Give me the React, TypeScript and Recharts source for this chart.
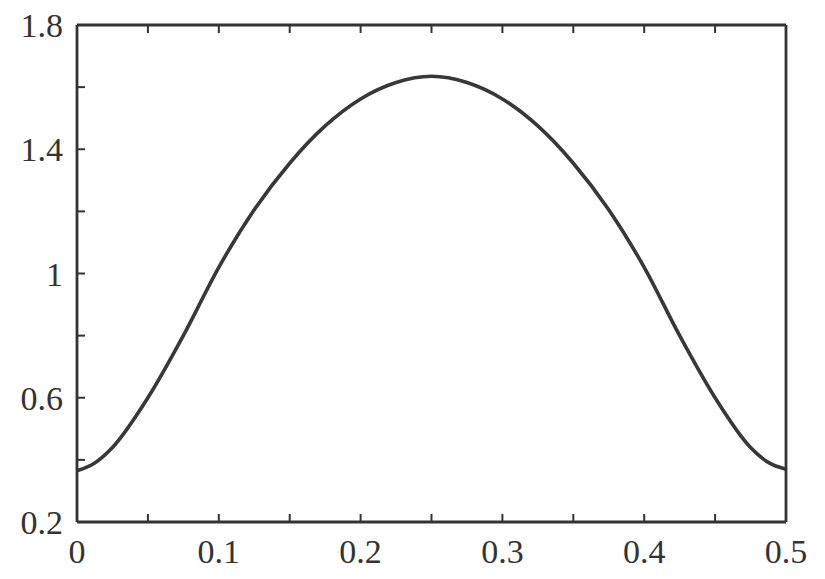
import React from "react";
import { LineChart, Line, XAxis, YAxis } from "recharts";

const xValues = [0, 0.0125, 0.025, 0.05, 0.075, 0.1, 0.125, 0.15, 0.175, 0.2, 0.225, 0.25, 0.275, 0.3, 0.325, 0.35, 0.375, 0.4, 0.425, 0.45, 0.475, 0.4875, 0.5];
const yValues = [0.365, 0.39, 0.44, 0.6, 0.8, 1.02, 1.205, 1.355, 1.475, 1.562, 1.615, 1.635, 1.615, 1.562, 1.475, 1.355, 1.205, 1.02, 0.8, 0.6, 0.44, 0.392, 0.37];

const xTicks = [0, 0.05, 0.1, 0.15, 0.2, 0.25, 0.3, 0.35, 0.4, 0.45, 0.5];
const xLabels = [0, 0.1, 0.2, 0.3, 0.4, 0.5];
const yTicks = [0.2, 0.4, 0.6, 0.8, 1, 1.2, 1.4, 1.6, 1.8];
const yLabels = [0.2, 0.6, 1, 1.4, 1.8];

const data = xValues.map((x, i) => ({ x, y: yValues[i] }));

const INK = "#333";
const FONT = "'Liberation Serif', 'DejaVu Serif', serif";
const TICK_LEN = 8;

const has = (list: number[], v: number) => list.some((l) => Math.abs(l - v) < 1e-6);
const fmt = (v: number) => String(Math.round(v * 10) / 10);

// ticks point into the plot box, labels only on every other tick
const BottomTick = ({ x, y, payload }: any) => (
    <g>
        <line x1={x} x2={x} y1={y} y2={y - TICK_LEN} stroke={INK} strokeWidth={2} />
        {has(xLabels, payload.value) && (
            <text x={x} y={y + 41} textAnchor="middle" fill={INK} fontSize={34} fontFamily={FONT}>
                {fmt(payload.value)}
            </text>
        )}
    </g>
);

const TopTick = ({ x, y }: any) => (
    <line x1={x} x2={x} y1={y} y2={y + TICK_LEN} stroke={INK} strokeWidth={2} />
);

const LeftTick = ({ x, y, payload }: any) => (
    <g>
        <line x1={x} x2={x + TICK_LEN} y1={y} y2={y} stroke={INK} strokeWidth={2} />
        {has(yLabels, payload.value) && (
            <text x={x - 14} y={y + 12} textAnchor="end" fill={INK} fontSize={34} fontFamily={FONT}>
                {fmt(payload.value)}
            </text>
        )}
    </g>
);

const RightTick = ({ x, y }: any) => (
    <line x1={x} x2={x - TICK_LEN} y1={y} y2={y} stroke={INK} strokeWidth={2} />
);

const axisLine = { stroke: INK, strokeWidth: 2.8 };

export default function App() {
    return (
        <div style={{ position: "absolute", left: 0, top: 0, background: "#fff" }}>
            <LineChart width={825} height={579} data={data} margin={{ top: 24, right: 38, bottom: 0, left: 0 }}>
                <XAxis
                    xAxisId="bottom"
                    dataKey="x"
                    type="number"
                    domain={[0, 0.5]}
                    ticks={xTicks}
                    interval={0}
                    height={57}
                    tickSize={0}
                    tickMargin={0}
                    tickLine={false}
                    axisLine={axisLine}
                    tick={<BottomTick />}
                />
                <XAxis
                    xAxisId="top"
                    orientation="top"
                    dataKey="x"
                    type="number"
                    domain={[0, 0.5]}
                    ticks={xTicks}
                    interval={0}
                    height={1}
                    tickSize={0}
                    tickMargin={0}
                    tickLine={false}
                    axisLine={axisLine}
                    tick={<TopTick />}
                />
                <YAxis
                    yAxisId="left"
                    type="number"
                    domain={[0.2, 1.8]}
                    ticks={yTicks}
                    interval={0}
                    width={77}
                    tickSize={0}
                    tickMargin={0}
                    tickLine={false}
                    axisLine={axisLine}
                    tick={<LeftTick />}
                />
                <YAxis
                    yAxisId="right"
                    orientation="right"
                    type="number"
                    domain={[0.2, 1.8]}
                    ticks={yTicks}
                    interval={0}
                    width={1}
                    tickSize={0}
                    tickMargin={0}
                    tickLine={false}
                    axisLine={axisLine}
                    tick={<RightTick />}
                />
                <Line
                    xAxisId="bottom"
                    yAxisId="left"
                    type="monotone"
                    dataKey="y"
                    stroke="#383838"
                    strokeWidth={3.6}
                    dot={false}
                    isAnimationActive={false}
                />
            </LineChart>
        </div>
    );
}
